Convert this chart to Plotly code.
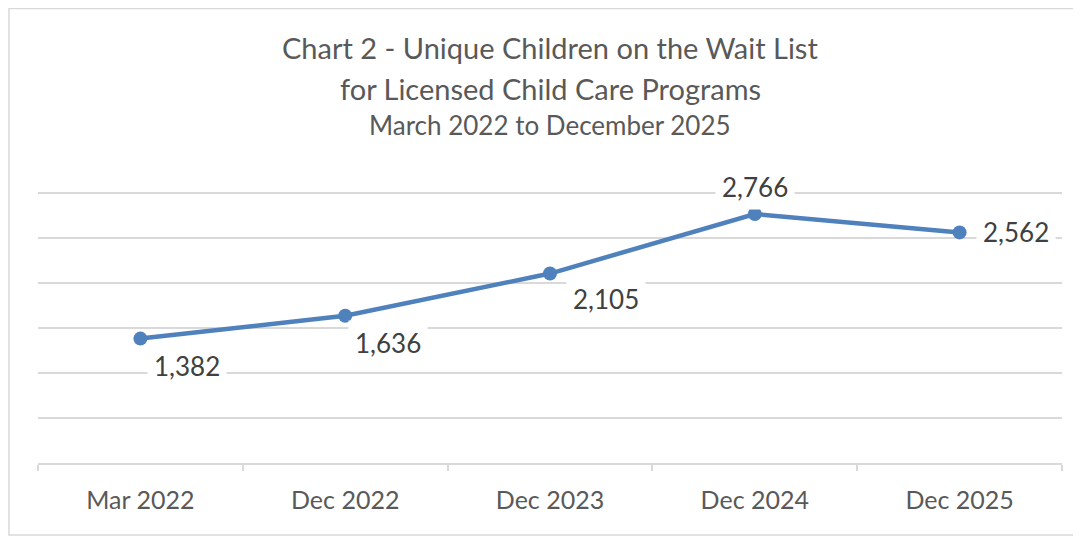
import plotly.graph_objects as go

periods = ["Mar 2022", "Dec 2022", "Dec 2023", "Dec 2024", "Dec 2025"]
children = [1382, 1636, 2105, 2766, 2562]
# label offsets (px) for each data label, like the Excel placement
label_dx = [47, 43, 56, 0, 56]
label_dy = [-27, -27, -25, 27, 0]

font_family = "Lato, 'Open Sans', sans-serif"
grey = "#595959"
grid = "#d9d9d9"
blue = "#4f81bd"

# the page puts the figure 8px in from the top-left corner
W, H = 1073, 531
ML, MR, MT, MB = 30, 19, 183, 76
PW, PH = W - ML - MR, H - MT - MB

fig = go.Figure()
fig.add_trace(go.Scatter(
    x=periods, y=children, mode="lines+markers",
    line=dict(color=blue, width=4.5),
    marker=dict(color=blue, size=14),
    hoverinfo="x+y", showlegend=False,
))

for p, v, dx, dy in zip(periods, children, label_dx, label_dy):
    fig.add_annotation(
        x=p, y=v, xref="x", yref="y", text=f"{v:,}", showarrow=False,
        xshift=dx, yshift=dy, bgcolor="white", borderpad=6,
        font=dict(family=font_family, size=26, color="#404040"),
    )

titles = [
    ("Chart 2 - Unique Children on the Wait List", 29, 40),
    ("for Licensed Child Care Programs", 29, 80),
    ("March 2022 to December 2025", 26, 117),
]
for text, size, ypx in titles:
    fig.add_annotation(
        text=text, xref="paper", yref="paper", showarrow=False,
        x=(542 - ML) / PW, y=1 + (MT - ypx) / PH,
        xanchor="center", yanchor="middle",
        font=dict(family=font_family, size=size, color=grey),
    )

# outer chart border
fig.add_shape(
    type="rect", xref="paper", yref="paper",
    x0=(1 - ML) / PW, x1=(W + 10 - ML) / PW,
    y0=1 - (H - 4 - MT) / PH, y1=1 + (MT - 0.5) / PH,
    line=dict(color=grid, width=1.5), fillcolor="rgba(0,0,0,0)",
)

fig.update_layout(
    width=W, height=H,
    margin=dict(l=ML, r=MR, t=MT, b=MB),
    paper_bgcolor="white", plot_bgcolor="white",
    font=dict(family=font_family, color=grey),
    xaxis=dict(
        type="category", showline=True, linecolor=grid, linewidth=1.5,
        ticks="outside", tickson="boundaries", ticklen=6, tickcolor=grid,
        tickwidth=1.5, showgrid=False, ticklabelstandoff=14,
        tickfont=dict(family=font_family, size=25, color=grey),
        range=[-0.5, 4.5],
    ),
    yaxis=dict(
        range=[0, 3022], dtick=500, showticklabels=False,
        showgrid=True, gridcolor=grid, gridwidth=1.5,
        zeroline=False, showline=False,
    ),
)

fig.write_html("out.html")
